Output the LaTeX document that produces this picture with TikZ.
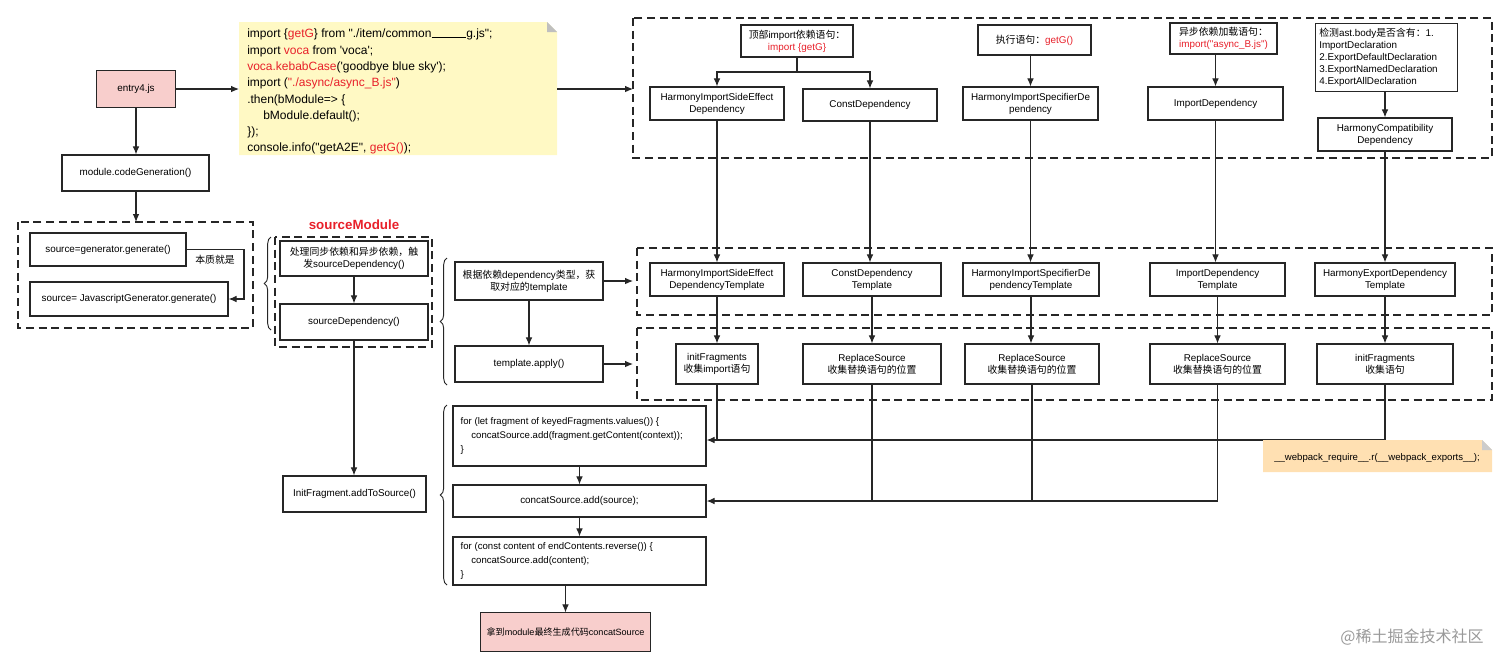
\documentclass[tikz,border=0pt]{standalone}
\usepackage{fontspec}
\setmainfont{Liberation Sans}[Ligatures=TeXOff]
\newfontfamily\cjk{Noto Sans CJK SC}[Ligatures=TeXOff]
\usetikzlibrary{arrows.meta,decorations.pathreplacing}
\definecolor{pinkf}{HTML}{F8CECC}
\definecolor{notey}{HTML}{FFF9C4}
\definecolor{noteo}{HTML}{FFE0B2}
\definecolor{red1}{HTML}{E8202A}
\tikzset{
  box/.style={draw=black!85,line width=0.9pt,fill=white,align=center,font=\fontsize{7.4}{9}\selectfont,inner sep=1pt},
  dbox/.style={draw=black!85,line width=1pt,dash pattern=on 6pt off 3.5pt},
  ar/.style={-{Latex[length=6pt,width=5pt]},line width=0.8pt,black!85},
  ln/.style={line width=0.8pt,black!85},
  br/.style={decorate,decoration={brace,amplitude=5pt},line width=0.7pt,black!85},
}
\newcommand{\bx}[6]{\node[box,minimum width={(#4-#2)*0.75pt},minimum height={(#5-#3)*0.75pt}] (#1) at ({(#2+#4)/2},{(#3+#5)/2}) {#6};}
\begin{document}
\begin{tikzpicture}[x=0.75pt,y=-0.75pt]
\useasboundingbox (0,0) rectangle (1512,669);
% dashed containers
\draw[dbox] (633,18) rectangle (1492,158);
\draw[dbox] (637,248) rectangle (1492,315);
\draw[dbox] (637,328) rectangle (1492,400);
\draw[dbox] (18,222) rectangle (253,328);
\draw[dbox] (275,237) rectangle (432,347);
% entry
\bx{entry}{97}{71}{175}{107}{}
\fill[pinkf] (entry.south west) rectangle (entry.north east);
\draw[line width=0.9pt,black!85] (entry.south west) rectangle (entry.north east);
\node[font=\fontsize{7.4}{9}\selectfont] at (entry) {entry4.js};
% note
\fill[notey] (239,22) -- (547,22) -- (557,32) -- (557,155) -- (239,155) -- cycle;
\fill[black!25] (547,22) -- (557,32) -- (547,32) -- cycle;
\coordinate (noteL) at (239,89);
\coordinate (noteR) at (557,89);
\node[anchor=north west,align=left,font=\fontsize{9}{12.2}\selectfont,inner sep=0] (notet) at (247,29) {%
import \{{\color{red1}getG}\} from "./item/common\rule{26pt}{0.4pt}g.js";\\
import {\color{red1}voca} from 'voca';\\
{\color{red1}voca.kebabCase}('goodbye blue sky');\\
import ({\color{red1}"./async/async\_B.js"})\\
.then(bModule=> \{\\
\hspace*{12pt}bModule.default();\\
\});\\
console.info("getA2E", {\color{red1}getG()});};
\coordinate (topL) at (633,89);
\draw[ar] (entry.east) -- (noteL);
\draw[ar] (noteR) -- (topL);
\bx{cg}{62}{155}{209}{191}{module.codeGeneration()}
\coordinate (lbT) at (136,222);
\draw[ar] (entry.south) -- (cg.north -| entry.south);
\draw[ar] (cg.south -| entry.south) -- (lbT);
% left box
\bx{g1}{30}{233}{186}{266}{source=generator.generate()}
\bx{g2}{30}{282}{228}{316}{source= JavascriptGenerator.generate()}
\draw[ar] (g1.east) -- (244,249.5) -- (244,299) -- (g2.east);
\node[font=\cjk\fontsize{7.4}{9}\selectfont] (bz) at (215,260) {本质就是};
\draw[br] (271,330) -- (271,237);
% sourceModule
\node[font=\bfseries\fontsize{10}{12}\selectfont,text=red1] (smt) at (354,225) {sourceModule};
\bx{s1}{280}{241}{428}{276}{{\cjk 处理同步依赖和异步依赖，触}\\{\cjk 发}sourceDependency()}
\bx{s2}{280}{304}{428}{340}{sourceDependency()}
\draw[ar] (s1) -- (s2);
\draw[br] (447,385) -- (447,258);
\bx{t1}{455}{262}{603}{300}{{\cjk 根据依赖}dependency{\cjk 类型，获}\\{\cjk 取对应的}template}
\bx{t2}{455}{346}{603}{382}{template.apply()}
\draw[ar] (t1) -- (t2);
\coordinate (midL) at (633,281);
\coordinate (lowL) at (633,364);
\draw[ar] (t1.east) -- (midL);
\draw[ar] (t2.east) -- (lowL);
% top row
\bx{q1}{741}{25}{853}{57}{{\cjk 顶部}import{\cjk 依赖语句：}\\{\color{red1}import \{getG\}}}
\bx{q2}{978}{25}{1091}{55}{{\cjk 执行语句：}{\color{red1}getG()}}
\bx{q3}{1170}{23}{1277}{54}{{\cjk 异步依赖加载语句：}\\{\color{red1}import("async\_B.js")}}
\node[box,align=left,anchor=north west,minimum width=106.5pt,minimum height=51pt,text width=101pt] (q4) at (1315,23) {{\cjk 检测}ast.body{\cjk 是否含有：}1.\\ImportDeclaration\\2.ExportDefaultDeclaration\\3.ExportNamedDeclaration\\4.ExportAllDeclaration};
% dependency row
\bx{d1}{650}{87}{784}{120}{HarmonyImportSideEffect\\Dependency}
\bx{d2}{803}{89}{937}{121}{ConstDependency}
\bx{d3}{963}{87}{1098}{120}{HarmonyImportSpecifierDe\\pendency}
\bx{d4}{1148}{87}{1283}{120}{ImportDependency}
\bx{d5}{1318}{118}{1452}{151}{HarmonyCompatibility\\Dependency}
\draw[ln] (q1.south) -- (797,72);
\draw[ar] (797,72) -| (d1.north);
\draw[ar] (797,72) -| (d2.north);
\draw[ar] (q2.south -| d3.north) -- (d3.north);
\draw[ar] (q3.south -| d4.north) -- (d4.north);
\draw[ar] (q4.south -| d5.north) -- (d5.north);
% template row
\bx{m1}{650}{263}{784}{296}{HarmonyImportSideEffect\\DependencyTemplate}
\bx{m2}{803}{263}{941}{296}{ConstDependency\\Template}
\bx{m3}{963}{263}{1099}{296}{HarmonyImportSpecifierDe\\pendencyTemplate}
\bx{m4}{1150}{263}{1285}{296}{ImportDependency\\Template}
\bx{m5}{1315}{263}{1455}{296}{HarmonyExportDependency\\Template}
\foreach \i in {1,...,5}{\draw[ar] (d\i.south) -- (d\i.south |- m\i.north);}
% fragment row
\bx{f1}{676}{344}{758}{384}{initFragments\\{\cjk 收集}import{\cjk 语句}}
\bx{f2}{803}{344}{941}{384}{ReplaceSource\\{\cjk 收集替换语句的位置}}
\bx{f3}{965}{344}{1099}{384}{ReplaceSource\\{\cjk 收集替换语句的位置}}
\bx{f4}{1150}{344}{1285}{384}{ReplaceSource\\{\cjk 收集替换语句的位置}}
\bx{f5}{1317}{344}{1453}{384}{initFragments\\{\cjk 收集语句}}
\foreach \i in {1,...,5}{\draw[ar] (m\i.south) -- (m\i.south |- f\i.north);}
% bottom
\bx{b1}{453}{406}{706}{466}{}
\node[anchor=west,align=left,font=\fontsize{7.2}{10.2}\selectfont] (b1t) at (456,436) {for (let fragment of keyedFragments.values()) \{\\\hspace*{8pt}concatSource.add(fragment.getContent(context));\\\}};
\bx{b2}{453}{485}{706}{517}{concatSource.add(source);}
\bx{b3}{453}{537}{706}{585}{}
\node[anchor=west,align=left,font=\fontsize{7.2}{10.2}\selectfont] (b3t) at (456,561) {for (const content of endContents.reverse()) \{\\\hspace*{8pt}concatSource.add(content);\\\}};
\bx{b4}{481}{613}{650}{651}{}
\fill[pinkf] (b4.south west) rectangle (b4.north east);
\draw[line width=0.9pt,black!85] (b4.south west) rectangle (b4.north east);
\node[font=\fontsize{6.8}{9}\selectfont] at (b4) {{\cjk 拿到}module{\cjk 最终生成代码}concatSource};
\bx{ia}{283}{476}{426}{512}{InitFragment.addToSource()}
\draw[ar] (s2.south) -- (s2.south |- ia.north);
\draw[br] (447,585) -- (447,405);
\draw[ar] (b1) -- (b2);
\draw[ar] (b2) -- (b3);
\draw[ar] (b3.south -| b4.north) -- (b4.north);
\draw[ln] (f1.south) -- (f1.south |- 0,440);
\draw[ln] (f5.south) -- (f5.south |- 0,440);
\draw[ar] (f5.south |- 0,440) -- (b1.east |- 0,440);
\foreach \i in {2,3}{\draw[ln] (f\i.south) -- (f\i.south |- 0,501);}
\draw[ln] (f4.south) -- (f4.south |- 0,501);
\draw[ar] (f4.south |- 0,501) -- (b2.east |- 0,501);
% webpack note
\fill[noteo] (1263,440) -- (1482,440) -- (1492,450) -- (1492,472) -- (1263,472) -- cycle;
\fill[black!20] (1482,440) -- (1492,450) -- (1482,450) -- cycle;
\node[font=\fontsize{7.2}{9}\selectfont] (wp) at (1377,458) {\_\_webpack\_require\_\_.r(\_\_webpack\_exports\_\_);};
\node[font=\cjk\fontsize{12}{14}\selectfont,text=black!40] (wm) at (1412,637) {@稀土掘金技术社区};
\end{tikzpicture}
\end{document}
